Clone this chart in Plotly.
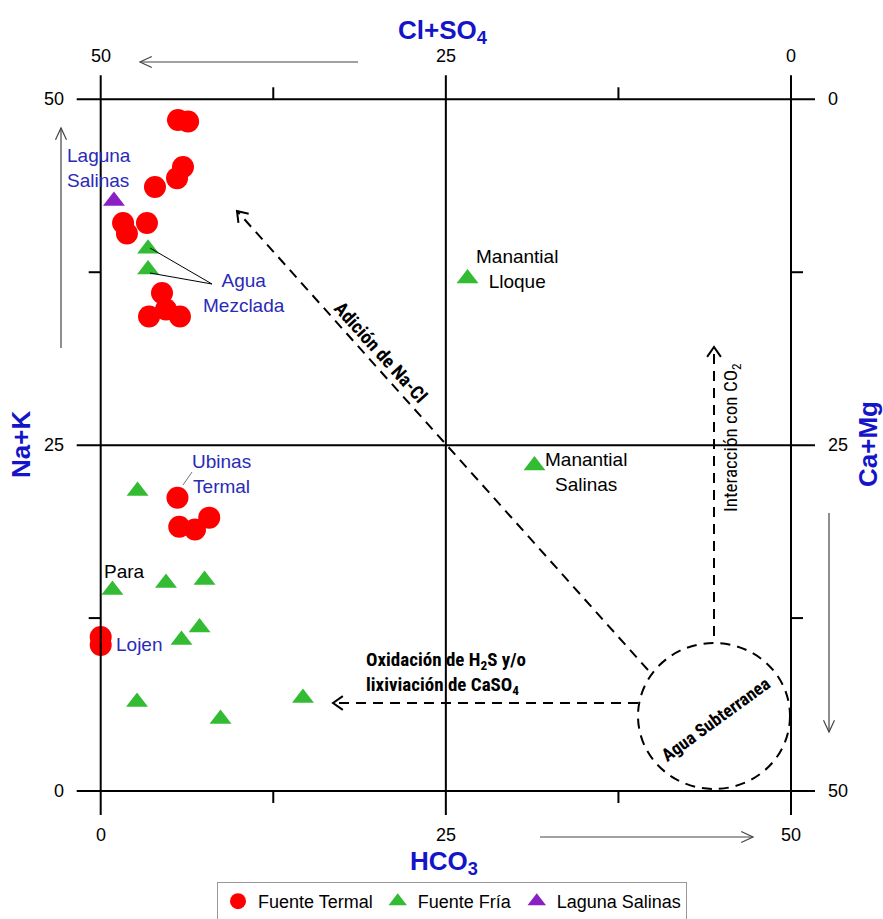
import math
import plotly.graph_objects as go

# ---------------- data (HCO3 on x, Na+K on y, both in %meq scale 0-50) ----------------
termal_hco3 = [5.6, 6.33, 5.96, 5.53, 3.93, 1.62, 1.9, 3.35, 4.44, 3.5, 5.74, 4.73,
               5.56, 5.69, 6.83, 7.86, 0.0, 0.0]
termal_nak = [48.5, 48.4, 45.1, 44.3, 43.66, 41.06, 40.3, 41.06, 36.0, 34.3, 34.3, 34.8,
              21.2, 19.1, 18.9, 19.76, 11.13, 10.55]

fria_hco3 = [3.43, 3.43, 2.67, 0.85, 4.73, 7.52, 7.16, 5.85, 2.63, 8.68, 14.65, 26.57, 31.42]
fria_nak = [39.2, 37.7, 21.68, 14.53, 15.04, 15.25, 11.82, 10.92, 6.43, 5.2, 6.72, 37.05, 23.53]

laguna_hco3 = [0.96]
laguna_nak = [42.65]

top_ticks = ["50", "25", "0"]        # Cl+SO4 (reversed)
bottom_ticks = ["0", "25", "50"]     # HCO3
left_ticks = ["0", "25", "50"]       # Na+K
right_ticks = ["50", "25", "0"]      # Ca+Mg (reversed)
tick_pos = [0, 25, 50]

# ---------------- geometry helpers (window pixel -> data) ----------------
OFF = 0                      # body margin removed by post_script
WIN_W, WIN_H = 883, 919
W, H = WIN_W, WIN_H
SX, SY = 690.3 / 50, 691.7 / 50
X0PX, Y0PX = 100.7, 791.0    # window pixels of data (0, 0)


def px2x(px):
    return (px - X0PX) / SX


def px2y(py):
    return (Y0PX - py) / SY


PLOT_BOTTOM_WIN = 870
XR = [px2x(OFF), px2x(OFF + W)]
YR = [px2y(PLOT_BOTTOM_WIN), px2y(OFF)]
PLOT_H = PLOT_BOTTOM_WIN - OFF

BLACK = "#000000"
BLUE_T = "#1414c8"
BLUE_A = "#2a2ab8"
ARIAL = "Liberation Sans, Arial, sans-serif"
NARROW = "Liberation Sans Narrow, Arial Narrow, Roboto Condensed, Liberation Sans, sans-serif"

fig = go.Figure()

fig.add_trace(go.Scatter(x=termal_hco3, y=termal_nak, mode="markers", name="Fuente Termal",
                         marker=dict(symbol="circle", size=22, color="#ff0000", line=dict(width=0))))
fig.add_trace(go.Scatter(x=fria_hco3, y=fria_nak, mode="markers", name="Fuente Fría",
                         marker=dict(symbol="triangle-up", size=19, color="#33bb33", line=dict(width=0))))
fig.add_trace(go.Scatter(x=laguna_hco3, y=laguna_nak, mode="markers", name="Laguna Salinas",
                         marker=dict(symbol="triangle-up", size=19, color="#8a1fc4", line=dict(width=0))))

shapes = []
EXT = 24 / SX
for v in tick_pos:
    shapes.append(dict(type="line", x0=v, x1=v, y0=-EXT, y1=50 + EXT, line=dict(color=BLACK, width=2)))
    shapes.append(dict(type="line", x0=-EXT, x1=50 + EXT, y0=v, y1=v, line=dict(color=BLACK, width=2)))
TL = 12 / SX
for v in (12.5, 37.5):
    shapes.append(dict(type="line", x0=v, x1=v, y0=50, y1=50 + TL, line=dict(color=BLACK, width=2)))
    shapes.append(dict(type="line", x0=v, x1=v, y0=0, y1=-TL, line=dict(color=BLACK, width=2)))
    shapes.append(dict(type="line", x0=0, x1=-TL, y0=v, y1=v, line=dict(color=BLACK, width=2)))
    shapes.append(dict(type="line", x0=50, x1=50 + TL, y0=v, y1=v, line=dict(color=BLACK, width=2)))


def chevron(tail, tip, length=11, half=33, color=BLACK, width=2):
    dx, dy = tip[0] - tail[0], tip[1] - tail[1]
    n = math.hypot(dx, dy)
    bx, by = -dx / n, -dy / n
    pts = []
    for s in (1, -1):
        a = math.radians(half) * s
        rx = bx * math.cos(a) - by * math.sin(a)
        ry = bx * math.sin(a) + by * math.cos(a)
        pts.append((tip[0] + rx * length, tip[1] + ry * length))
    p = "M {:.4f},{:.4f} L {:.4f},{:.4f} L {:.4f},{:.4f}".format(
        px2x(pts[0][0]), px2y(pts[0][1]), px2x(tip[0]), px2y(tip[1]), px2x(pts[1][0]), px2y(pts[1][1]))
    return dict(type="path", path=p, line=dict(color=color, width=width))


def seg(a, b, color=BLACK, width=2, dash=None):
    ln = dict(color=color, width=width)
    if dash:
        ln["dash"] = dash
    return dict(type="line", x0=px2x(a[0]), y0=px2y(a[1]), x1=px2x(b[0]), y1=px2y(b[1]), line=ln)


DASH = "10px,7px"
for tail, tip in [((648, 670), (237, 211)), ((714, 636), (714, 347)), ((638, 703), (333, 703))]:
    shapes.append(seg(tail, tip, dash=DASH, width=2))
    shapes.append(chevron(tail, tip, length=12, half=35, width=2))
shapes.append(dict(type="circle", x0=px2x(638), x1=px2x(790), y0=px2y(789), y1=px2y(643),
                   line=dict(color=BLACK, width=2, dash=DASH)))
GRAY = "#444444"
for tail, tip in [((358, 62), (140, 62)), ((61, 348), (61, 128)),
                  ((540, 837), (753, 837)), ((829, 513), (829, 732))]:
    shapes.append(seg(tail, tip, color=GRAY, width=1.2))
    shapes.append(chevron(tail, tip, length=13, half=25, color=GRAY, width=1.2))
shapes.append(seg((150, 248), (212, 284), width=1))
shapes.append(seg((150, 273), (212, 284), width=1))
shapes.append(seg((183, 485), (192, 472), color="#777777", width=1))

ann = []


def txt(text, px, py, size=17, color=BLACK, family=ARIAL, xanchor="center", yanchor="middle",
        align="center", angle=0):
    ann.append(dict(text=text, x=px2x(px), y=px2y(py), xref="x", yref="y", showarrow=False,
                    font=dict(size=size, color=color, family=family), xanchor=xanchor,
                    yanchor=yanchor, align=align, textangle=angle))


for v, t in zip(tick_pos, top_ticks):
    txt(t, X0PX + v * SX, 56, size=18)
for v, t in zip(tick_pos, bottom_ticks):
    txt(t, X0PX + v * SX, 835, size=18)
for v, t in zip(tick_pos, left_ticks):
    txt(t, 66, Y0PX - v * SY, size=18, xanchor="right")
for v, t in zip(tick_pos, right_ticks):
    txt(t, 826, Y0PX - v * SY, size=18, xanchor="left")

txt("<b>Cl+SO<sub>4</sub></b>", 443, 31, size=26, color=BLUE_T)
txt("<b>HCO<sub>3</sub></b>", 444, 862, size=26, color=BLUE_T)
txt("<b>Na+K</b>", 21, 445, size=26, color=BLUE_T, angle=-90)
txt("<b>Ca+Mg</b>", 868, 444, size=26, color=BLUE_T, angle=-90)

txt("Laguna<br>Salinas", 65, 168, size=19, color=BLUE_A, xanchor="left", align="left")
txt("Agua<br>Mezclada", 244, 293, size=19, color=BLUE_A)
txt("Ubinas<br>Termal", 221, 474, size=19, color=BLUE_A)
txt("Para", 124, 571, size=19)
txt("Lojen", 114, 644, size=19, color=BLUE_A, xanchor="left")
txt("Manantial<br>Lloque", 517, 269, size=19)
txt("Manantial<br>Salinas", 586, 472, size=19)

txt("<b>Oxidación de H<sub>2</sub>S y/o<br>lixiviación de CaSO<sub>4</sub></b>", 364, 673,
    size=19, family=NARROW, xanchor="left", align="left")
txt("<b>Adición de Na-Cl</b>", 381, 352, size=19, family=NARROW, angle=48)
txt("Interacción con CO<sub>2</sub>", 731, 438, size=19, family=NARROW, angle=-90)
txt("<b>Agua Subterranea</b>", 715, 719, size=18, family=NARROW, angle=-36)

fig.update_layout(
    width=W, height=H,
    margin=dict(l=0, r=0, t=0, b=OFF + H - PLOT_BOTTOM_WIN, autoexpand=False),
    paper_bgcolor="white", plot_bgcolor="white",
    xaxis=dict(range=XR, visible=False, fixedrange=True),
    yaxis=dict(range=YR, visible=False, fixedrange=True),
    shapes=shapes, annotations=ann,
    showlegend=True,
    legend=dict(orientation="h", x=(452 - OFF) / W, xanchor="center",
                y=(PLOT_BOTTOM_WIN - 882) / PLOT_H, yanchor="top",
                bordercolor="#999999", borderwidth=1, bgcolor="white",
                font=dict(size=18, family=ARIAL, color=BLACK), itemsizing="trace"),
    font=dict(family=ARIAL),
)

fig.write_html(
    "out.html",
    config={"displayModeBar": False, "staticPlot": True},
    post_script="document.body.style.margin='0';document.body.style.overflow='hidden';",
)
